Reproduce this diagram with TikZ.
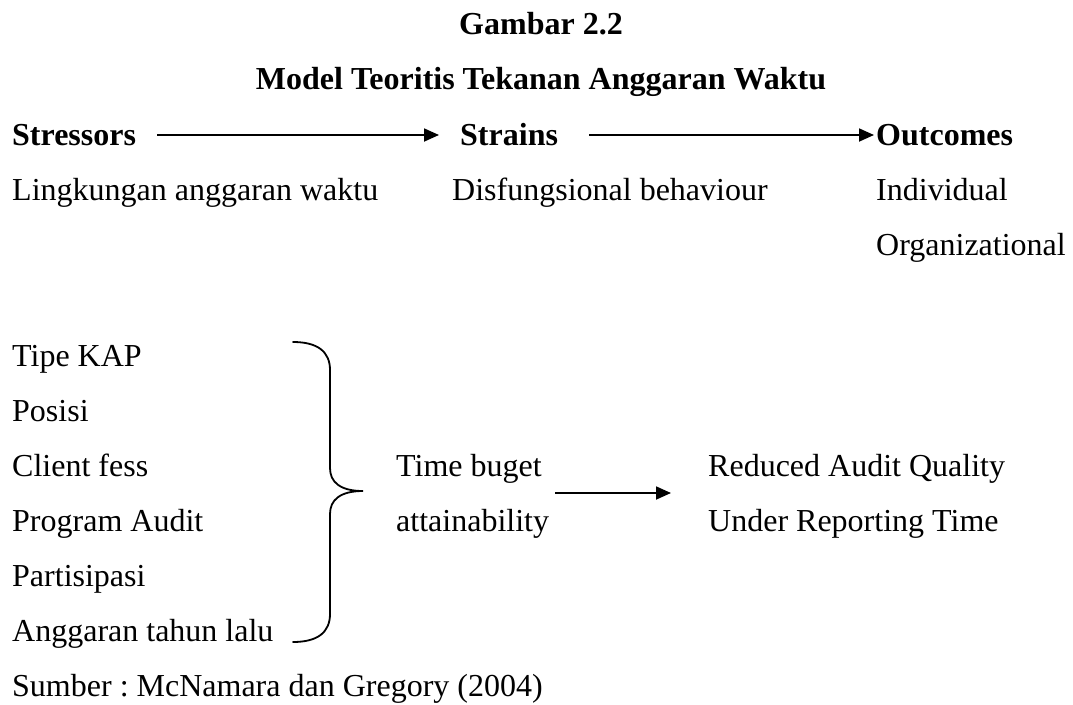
\documentclass[tikz,border=0pt]{standalone}
\usepackage{fontspec}
\setmainfont{Liberation Serif}
\usetikzlibrary{arrows.meta}
\frenchspacing
\begin{document}
\begin{tikzpicture}[x=1pt,y=-1pt,
  txt/.style={anchor=base west,inner sep=0pt,font=\fontsize{32}{38}\selectfont},
  btxt/.style={anchor=base west,inner sep=0pt,font=\fontsize{32}{38}\selectfont\bfseries},
  ttl/.style={anchor=base,inner sep=0pt,font=\fontsize{32}{38}\selectfont\bfseries},
  arr/.style={line width=1.8pt,-{Triangle[length=15pt,width=13pt]}},
  brc/.style={line width=1.8pt,line cap=round}]
\useasboundingbox (0,0) rectangle (1073,704);
\node[ttl] (t1) at (541,34) {Gambar 2.2};
\node[ttl] (t2) at (541,89) {Model Teoritis Tekanan Anggaran Waktu};
\node[btxt] (stressors) at (12,145) {Stressors};
\node[btxt] (strains) at (460,145) {Strains};
\node[btxt] (outcomes) at (876,145) {Outcomes};
\node[txt] (ling) at (12,200) {Lingkungan anggaran waktu};
\node[txt] (disf) at (452,200) {Disfungsional behaviour};
\node[txt] (indiv) at (876,200) {Individual};
\node[txt] (org) at (876,255) {Organizational};
\coordinate (a1s) at (157,135);
\coordinate (a1e) at (439,135);
\coordinate (a2s) at (589,135);
\coordinate (a2e) at (874,135);
\draw[arr] (a1s) -- (a1e);
\draw[arr] (a2s) -- (a2e);
\node[txt] (l1) at (12,366) {Tipe KAP};
\node[txt] (l2) at (12,421) {Posisi};
\node[txt] (l3) at (12,476) {Client fess};
\node[txt] (l4) at (12,531) {Program Audit};
\node[txt] (l5) at (12,586) {Partisipasi};
\node[txt] (l6) at (12,641) {Anggaran tahun lalu};
\node[txt] (src) at (12,696) {Sumber : McNamara dan Gregory (2004)};
\draw[brc] (293,342) .. controls (318,342) and (330,352) .. (330,370)
  -- (330,468) .. controls (330,482) and (340,491) .. (363,491)
  .. controls (340,491) and (330,500) .. (330,514)
  -- (330,614) .. controls (330,632) and (318,642) .. (293,642);
\node[txt] (tb1) at (396,476) {Time buget};
\node[txt] (tb2) at (396,531) {attainability};
\node[txt] (r1) at (708,476) {Reduced Audit Quality};
\node[txt] (r2) at (708,531) {Under Reporting Time};
\coordinate (a3s) at (555,493);
\coordinate (a3e) at (671,493);
\draw[arr] (a3s) -- (a3e);
\end{tikzpicture}
\end{document}
